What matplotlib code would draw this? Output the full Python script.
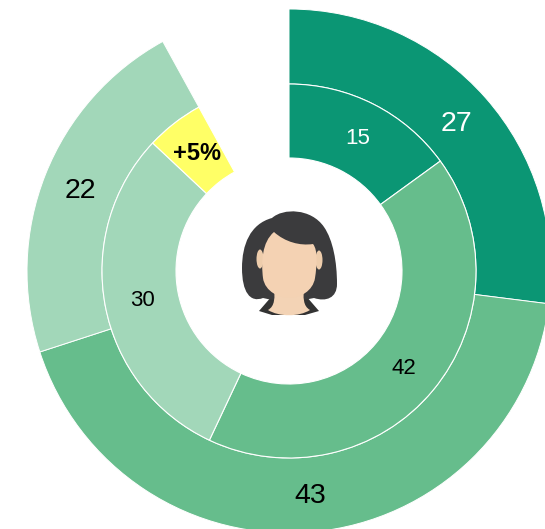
import matplotlib
matplotlib.use("Agg")
import matplotlib.pyplot as plt
from matplotlib.patches import Ellipse, Polygon, PathPatch
from matplotlib.path import Path

plt.rcParams['font.family'] = ['Liberation Sans', 'DejaVu Sans']

outer_values = [27, 43, 22, 8]
outer_colors = ['#0b9674', '#66bd8c', '#a2d7b9', 'none']
outer_labels = ['27', '43', '22']
outer_label_colors = ['white', 'black', 'black']
inner_values = [15, 42, 30, 5, 8]
inner_colors = ['#0b9674', '#66bd8c', '#a2d7b9', '#ffff66', 'none']
inner_labels = ['15', '42', '30', '+5%']
inner_label_colors = ['white', 'black', 'black', 'black']

W, H = 545, 529
fig = plt.figure(figsize=(W / 100, H / 100), dpi=100)
ax = fig.add_axes([0, 0, 1, 1])
cx, cy = 289, H - 271


def style(wedges, colors, lw):
    for w, c in zip(wedges, colors):
        w.set_facecolor(c)
        w.set_edgecolor('none' if c == 'none' else 'white')
        w.set_linewidth(0 if c == 'none' else lw)


w1, _ = ax.pie(outer_values, radius=262, center=(cx, cy), startangle=90, counterclock=False,
               wedgeprops=dict(width=75))
style(w1, outer_colors, 0.7)
w2, _ = ax.pie(inner_values, radius=187, center=(cx, cy), startangle=90, counterclock=False,
               wedgeprops=dict(width=74))
style(w2, inner_colors, 0.8)

ax.set_xlim(0, W)
ax.set_ylim(0, H)
ax.set_aspect('equal')
ax.axis('off')


def px(x, y):
    return (x, H - y)


def shape(pts, color, z):
    verts = [px(*pts[0])]
    codes = [Path.MOVETO]
    for i in range(1, len(pts), 3):
        verts += [px(*p) for p in pts[i:i + 3]]
        codes += [Path.CURVE4] * 3
    ax.add_patch(PathPatch(Path(verts, codes), fc=color, ec='none', zorder=z))


# portrait icon
ax.add_patch(Polygon([px(259, 311), px(272, 296), px(306, 296), px(319, 311), px(305, 315), px(272, 315)],
                     fc='#333333', ec='none', zorder=5))
shape([(272, 218), (283, 208), (311, 208), (324, 227),
       (333, 240), (337, 262), (337, 284),
       (337, 298), (326, 302), (314, 298),
       (295, 302), (280, 302), (263, 298),
       (250, 303), (242, 292), (242, 268),
       (242, 245), (250, 224), (272, 218)], '#3b3b3d', 6)
ax.add_patch(Ellipse(px(260, 259), 7, 19, fc='#eecdac', ec='none', zorder=7))
ax.add_patch(Ellipse(px(319, 260), 7, 19, fc='#eecdac', ec='none', zorder=7))
shape([(274, 285), (275, 298), (275, 306), (268, 310),
       (279, 317), (299, 317), (310, 310),
       (303, 306), (303, 298), (304, 285),
       (295, 285), (285, 285), (274, 285)], '#f3d3b5', 7)
shape([(274, 232), (262, 242), (261, 262), (263, 278),
       (265, 292), (280, 298), (289, 298),
       (300, 298), (313, 291), (315, 278),
       (317, 265), (318, 250), (313, 244),
       (300, 246), (285, 242), (274, 232)], '#f4d2b3', 8)

outer_pos = [(456.5, 124), (310, 496), (80, 191)]
for s, c, p in zip(outer_labels, outer_label_colors, outer_pos):
    ax.text(*px(*p), s, color=c, fontsize=20.5, ha='center', va='center', zorder=9)
inner_pos = [(358, 139), (404, 368), (142, 301)]
for s, c, p in zip(inner_labels[:3], inner_label_colors[:3], inner_pos):
    ax.text(*px(*p), s, color=c, fontsize=16, ha='center', va='center', zorder=9)
ax.text(*px(197, 154), inner_labels[3], color=inner_label_colors[3], fontsize=17,
        fontweight='bold', ha='center', va='center', zorder=9)

fig.savefig('out.png', dpi=100, facecolor='white')
